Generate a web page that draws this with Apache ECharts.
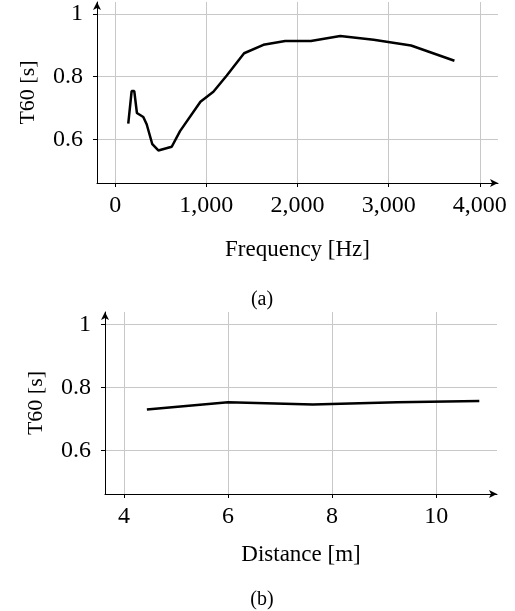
<!DOCTYPE html>
<html>
<head>
<meta charset="utf-8">
<script src="https://cdn.jsdelivr.net/npm/echarts@6/dist/echarts.min.js"></script>
<style>
  html, body { margin: 0; padding: 0; background: #fff; }
  #main { width: 515px; height: 611px; }
</style>
</head>
<body>
<div id="main"></div>
<script>
// (a) T60 against frequency
var freqHz = [143, 180, 209, 238, 308, 345, 407, 473, 620, 711, 935, 1077, 1224, 1414, 1626, 1865, 2147, 2469, 2835, 3246, 3722];
var t60Freq = [0.650, 0.754, 0.754, 0.684, 0.671, 0.648, 0.584, 0.564, 0.576, 0.626, 0.720, 0.752, 0.804, 0.875, 0.902, 0.914, 0.914, 0.930, 0.918, 0.900, 0.851];
var freqTicks = [0, 1000, 2000, 3000, 4000];

// (b) T60 against distance
var distM = [4.44, 6.0, 7.63, 9.25, 10.83];
var t60Dist = [0.730, 0.753, 0.746, 0.753, 0.757];
var distTicks = [4, 6, 8, 10];

var t60Ticks = [0.6, 0.8, 1];

window.addEventListener("load", function () {
    var myChart = echarts.init(document.getElementById('main'));
    var font = 'Liberation Serif';

    function makeX(idx, min, max, ticks, name, nameGap, fmt) {
        return {
            type: 'value', gridIndex: idx, min: min, max: max,
            name: name, nameLocation: 'middle', nameGap: nameGap,
            nameTextStyle: { fontFamily: font, fontSize: 23, color: '#000' },
            axisLine: { show: true, onZero: false, symbol: ['none', 'arrow'], symbolSize: [6, 8],
                lineStyle: { color: '#000', width: 1 } },
            axisTick: { show: true, length: 4, customValues: ticks, lineStyle: { color: '#000' } },
            axisLabel: { customValues: ticks, margin: 11, fontFamily: font, fontSize: 24, color: '#000',
                formatter: fmt },
            splitLine: { show: true, lineStyle: { color: '#c8c8c8', width: 1 } }
        };
    }
    function makeY(idx, min, max) {
        return {
            type: 'value', gridIndex: idx, min: min, max: max,
            name: 'T60 [s]', nameLocation: 'middle', nameGap: 58,
            nameTextStyle: { fontFamily: font, fontSize: 22, color: '#000' },
            axisLine: { show: true, onZero: false, symbol: ['none', 'arrow'], symbolSize: [6, 8],
                lineStyle: { color: '#000', width: 1 } },
            axisTick: { show: true, length: 4, customValues: t60Ticks, lineStyle: { color: '#000' } },
            axisLabel: { customValues: t60Ticks, margin: 14, fontFamily: font, fontSize: 24, color: '#000' },
            splitLine: { show: true, lineStyle: { color: '#c8c8c8', width: 1 } }
        };
    }

    var option = {
        animation: false,
        grid: [
            { left: 97, top: 2, width: 401, height: 181 },
            { left: 105, top: 312, width: 392, height: 182 }
        ],
        xAxis: [
            makeX(0, -200, 4200, freqTicks, 'Frequency [Hz]', 55, function (v) {
                return v >= 1000 ? Math.floor(v / 1000) + ',000' : String(v);
            }),
            makeX(1, 3.635, 11.17, distTicks, 'Distance [m]', 49)
        ],
        yAxis: [
            makeY(0, 0.46, 1.039),
            makeY(1, 0.462, 1.039)
        ],
        series: [
            {
                type: 'line', xAxisIndex: 0, yAxisIndex: 0, showSymbol: false,
                data: freqHz.map(function (f, i) { return [f, t60Freq[i]]; }),
                lineStyle: { color: '#000', width: 2.5 }
            },
            {
                type: 'line', xAxisIndex: 1, yAxisIndex: 1, showSymbol: false,
                data: distM.map(function (d, i) { return [d, t60Dist[i]]; }),
                lineStyle: { color: '#000', width: 2.5 }
            }
        ],
        graphic: [
            { type: 'text', x: 262, y: 300, style: { text: '(a)', font: '20px "Liberation Serif"',
                fill: '#000', align: 'center', verticalAlign: 'middle' } },
            { type: 'text', x: 262, y: 600, style: { text: '(b)', font: '20px "Liberation Serif"',
                fill: '#000', align: 'center', verticalAlign: 'middle' } }
        ]
    };
    myChart.setOption(option);
});
</script>
</body>
</html>
